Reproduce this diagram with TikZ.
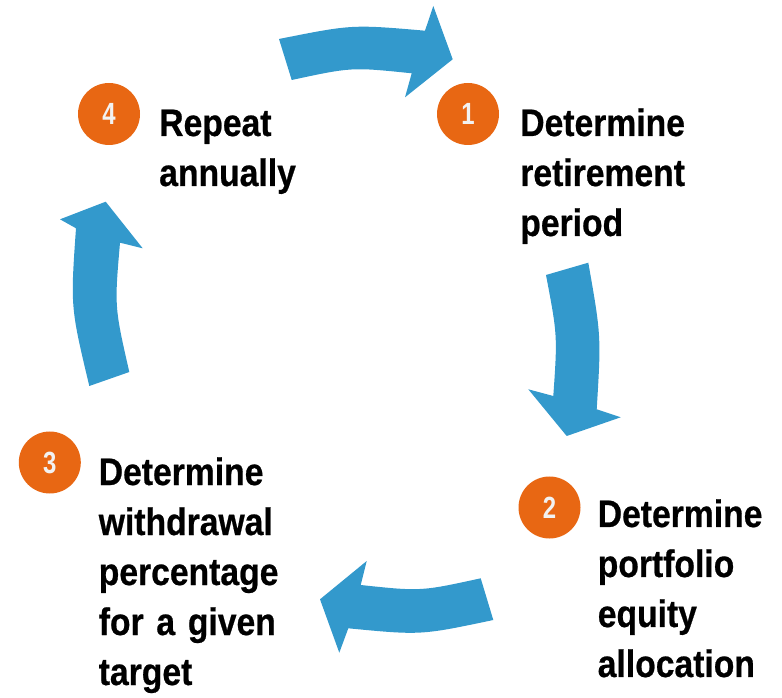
\documentclass[tikz,border=0pt]{standalone}
\usepackage{fontspec}
\setmainfont{Liberation Sans}[FakeStretch=0.88, FakeBold=0.6]
\newfontfamily\numfont{Liberation Sans}[FakeStretch=0.78]

\definecolor{cycleblue}{RGB}{51,153,204}
\definecolor{steporange}{RGB}{232,103,19}
\definecolor{numwhite}{RGB}{242,242,242}

\begin{document}
\begin{tikzpicture}[x=0.75pt, y=-0.75pt,
    stepnum/.style={circle, fill=steporange, minimum size=46.5pt, inner sep=0pt,
        text=numwhite, font=\numfont\bfseries\fontsize{23}{23}\selectfont},
    steptext/.style={anchor=base west, align=left, inner sep=0pt, text width=190pt,
        font=\bfseries\fontsize{28.7}{37.5}\selectfont},
    cyclearrow/.style={fill=cycleblue}]
        \useasboundingbox (0, 0) rectangle (782, 698);

        % the four block arrows going round
        \fill[cyclearrow] (279, 39) .. controls (352, 24.4) .. (425, 30.7)
            -- (433.3, 6) -- (452.7, 59.3) -- (405, 97.3) -- (411.7, 73.3)
            .. controls (351.7, 67.1) .. (291.7, 80) -- cycle;
        \fill[cyclearrow] (546, 275) .. controls (557.5, 335.5) .. (553.3, 396)
            -- (528.3, 389.3) -- (566.7, 436) -- (620.7, 417.3) -- (596.7, 409.3)
            .. controls (601.2, 336) .. (588.3, 262.7) -- cycle;
        \fill[cyclearrow] (480.7, 578.3) .. controls (420.7, 591.4) .. (360.7, 585)
            -- (366.7, 561) -- (320, 599.3) -- (339.3, 652.7) -- (348.3, 628.3)
            .. controls (420.8, 635.3) .. (493.3, 620) -- cycle;
        \fill[cyclearrow] (129.3, 372) .. controls (114.45, 306.9) .. (120, 242.7)
            -- (142.7, 248.3) -- (105.7, 201.7) -- (60, 219.3) -- (76, 228.3)
            .. controls (70.45, 306.9) .. (89.3, 386) -- cycle;

        % numbered steps
        \node[stepnum] (n1) at (468, 114) {1};
        \node[stepnum] (n2) at (549.5, 507.5) {2};
        \node[stepnum] (n3) at (49.8, 462.5) {3};
        \node[stepnum] (n4) at (109, 114) {4};

        \node[steptext] (t1) at (520, 136) {Determine\\retirement\\period};
        \node[steptext] (t2) at (597.5, 527) {Determine\\portfolio\\equity\\allocation};
        \node[steptext] (t3) at (98.5, 485) {Determine\\withdrawal\\percentage\\for a given\\target};
        \node[steptext] (t4) at (159, 136) {Repeat\\annually};
    \end{tikzpicture}
\end{document}
